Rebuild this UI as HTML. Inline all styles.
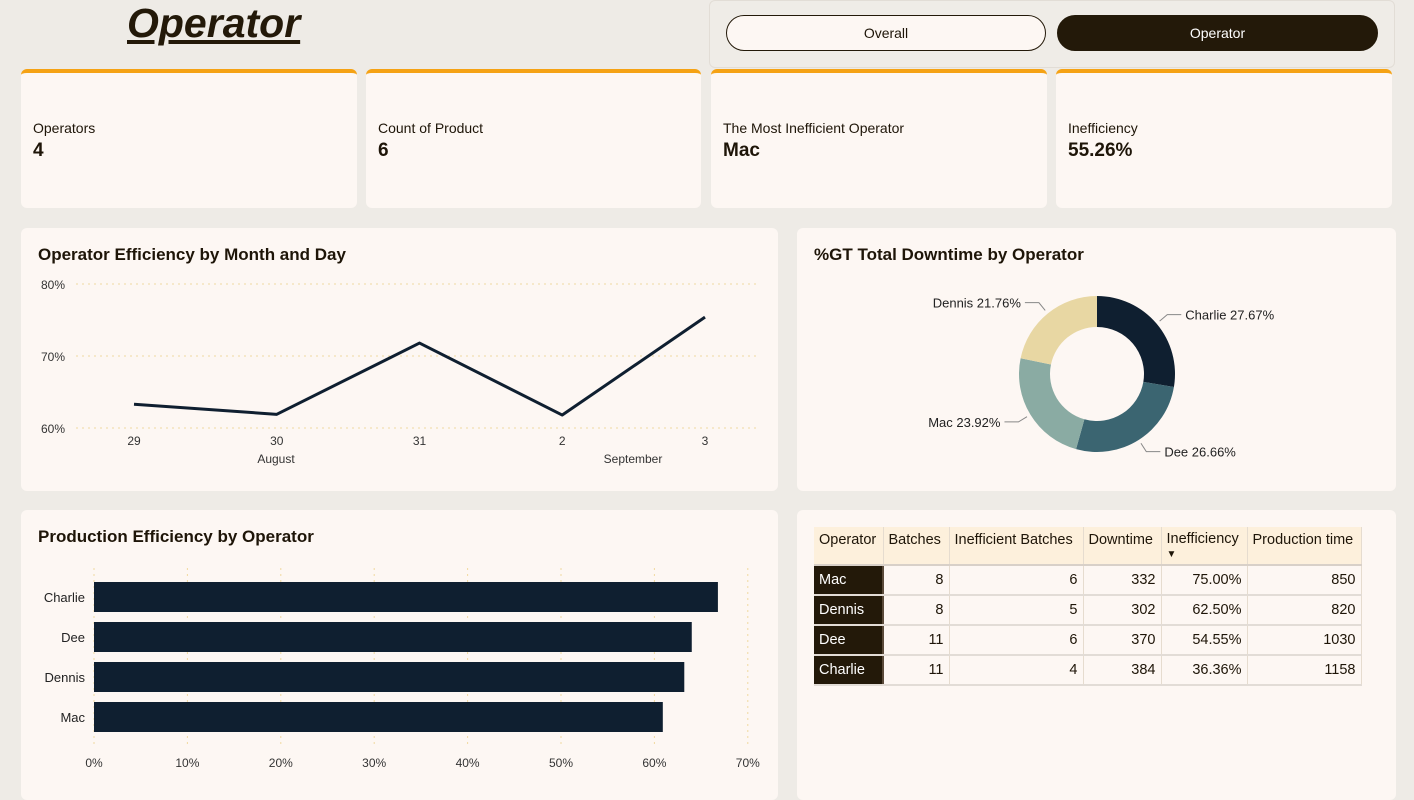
<!DOCTYPE html>
<html><head><meta charset="utf-8">
<style>
*{box-sizing:border-box;margin:0;padding:0}
body{width:1414px;height:791px;background:#eeebe6;font-family:"Liberation Sans",sans-serif;position:relative;overflow:hidden;color:#1e1508}
.card{position:absolute;background:#fdf7f3;border-radius:6px}
.kpi{border-top:4px solid #f5a214}
.kpi .l{position:absolute;left:12px;top:47px;font-size:14px}
.kpi .v{position:absolute;left:12px;top:67px;font-size:19px;font-weight:bold}
.title{position:absolute;left:17px;top:17px;font-size:17px;font-weight:bold}
.btn{position:absolute;height:36px;border-radius:18px;font-size:14px;text-align:center;line-height:34px}
table{position:absolute;left:814px;top:527px;border-collapse:collapse;font-size:14.5px}
th{background:#fdf0dc;font-weight:normal;text-align:left;padding:0 5px;height:38px;vertical-align:top;padding-top:5px;border-right:1px solid #e6dccf;border-bottom:2px solid #d8d0c8}
td{height:30px;padding:0 5px;text-align:right;border-right:1px solid #e6dccf;border-bottom:2px solid #e2dcd6}
td.op{background:#231909;color:#fff;text-align:left;border-right:2px solid #5a4a3a}
svg text{font-family:"Liberation Sans",sans-serif}
</style></head><body>
<div style="position:absolute;left:127px;top:0px;font-size:41px;font-weight:bold;font-style:italic;text-decoration:underline;color:#231909">Operator</div>
<div style="position:absolute;left:709px;top:0;width:686px;height:68px;border:1px solid #e2ddd6;border-radius:6px;background:#efece7"></div>
<div class="btn" style="left:726px;top:15px;width:320px;background:#fdf7f3;border:1px solid #231909">Overall</div>
<div class="btn" style="left:1057px;top:15px;width:321px;background:#231909;color:#fff;border:1px solid #231909">Operator</div>

<div class="card kpi" style="left:21px;top:69px;width:336px;height:139px"><div class="l">Operators</div><div class="v">4</div></div>
<div class="card kpi" style="left:366px;top:69px;width:335px;height:139px"><div class="l">Count of Product</div><div class="v">6</div></div>
<div class="card kpi" style="left:711px;top:69px;width:336px;height:139px"><div class="l">The Most Inefficient Operator</div><div class="v">Mac</div></div>
<div class="card kpi" style="left:1056px;top:69px;width:336px;height:139px"><div class="l">Inefficiency</div><div class="v">55.26%</div></div>

<div class="card" style="left:21px;top:228px;width:757px;height:263px"><div class="title">Operator Efficiency by Month and Day</div></div>
<div class="card" style="left:797px;top:228px;width:599px;height:263px"><div class="title">%GT Total Downtime by Operator</div></div>
<div class="card" style="left:21px;top:510px;width:757px;height:290px"><div class="title">Production Efficiency by Operator</div></div>
<div class="card" style="left:797px;top:510px;width:599px;height:290px"></div>

<svg id="charts" width="1414" height="791" style="position:absolute;left:0;top:0"></svg>

<table>
<tr><th>Operator</th><th>Batches</th><th>Inefficient Batches</th><th>Downtime</th><th style="line-height:14px">Inefficiency<br><span style="font-size:10px">▼</span></th><th>Production time</th></tr>
<tr><td class="op" style="width:69px">Mac</td><td style="width:66px">8</td><td style="width:134px">6</td><td style="width:78px">332</td><td style="width:86px">75.00%</td><td style="width:114px">850</td></tr>
<tr><td class="op">Dennis</td><td>8</td><td>5</td><td>302</td><td>62.50%</td><td>820</td></tr>
<tr><td class="op">Dee</td><td>11</td><td>6</td><td>370</td><td>54.55%</td><td>1030</td></tr>
<tr><td class="op">Charlie</td><td>11</td><td>4</td><td>384</td><td>36.36%</td><td>1158</td></tr>
</table>

<script>
const lineDays=["29","30","31","2","3"];
const lineMonths=[["August",276],["September",633]];
const lineValues=[63.3,61.9,71.8,61.8,75.4];
const lineTicks=[60,70,80];
const barCats=["Charlie","Dee","Dennis","Mac"];
const barValues=[66.8,64.0,63.2,60.9];
const barTicks=[0,10,20,30,40,50,60,70];
const donutCats=["Charlie","Dee","Mac","Dennis"];
const donutValues=[27.67,26.66,23.92,21.76];
const donutColors=["#0f1f30","#3b6571","#8aaba3","#e8d7a3"];

const NS="http://www.w3.org/2000/svg";
const svg=document.getElementById('charts');
function mk(tag,attrs,txt){const e=document.createElementNS(NS,tag);for(const k in attrs)e.setAttribute(k,attrs[k]);if(txt!=null)e.textContent=txt;svg.appendChild(e);return e;}

const ly=v=>428-(v-60)*7.2;
const lx=i=>134+i*142.75;
lineTicks.forEach(t=>{
  const g=mk('line',{x1:76,x2:758,y1:ly(t),y2:ly(t),stroke:'#f0d9a0','stroke-dasharray':'2,4'});
  
  
  const l=mk('text',{x:65,y:ly(t)+5,'text-anchor':'end','font-size':12,fill:'#333'},t+'%');
  
  
});
lineDays.forEach((d,i)=>{
  const t=mk('text',{x:lx(i),y:445,'text-anchor':'middle','font-size':12,fill:'#333'},d);
  
  
});
lineMonths.forEach(m=>{
  const t=mk('text',{x:m[1],y:463,'text-anchor':'middle','font-size':12,fill:'#333'},m[0]);
  
  
});
const pl=mk('polyline',{points:lineValues.map((v,i)=>lx(i)+','+ly(v)).join(' '),fill:'none',stroke:'#0f1f30','stroke-width':3,'stroke-linejoin':'round'});



const bx=v=>94+v*9.34;
barTicks.forEach(t=>{
  const g=mk('line',{x1:bx(t),x2:bx(t),y1:568,y2:745,stroke:'#f0d9a0','stroke-dasharray':'2,4'});
  
  
  const l=mk('text',{x:bx(t),y:767,'text-anchor':'middle','font-size':12,fill:'#333'},t+'%');
  
  
});
barCats.forEach((c,i)=>{
  const y=582+i*40;
  const r=mk('rect',{x:94,y:y,width:bx(barValues[i])-94,height:30,fill:'#0f1f30'});
  
  
  const t=mk('text',{x:85,y:y+20,'text-anchor':'end','font-size':13,fill:'#222'},c);
  
  
});

const cx=1097,cy=374,R=78,r0=47;
const total=donutValues.reduce((a,b)=>a+b,0);
let a0=0;
donutValues.forEach((v,i)=>{
  const a1=a0+v/total*2*Math.PI;
  const p=(a,rr)=>[cx+rr*Math.sin(a),cy-rr*Math.cos(a)];
  const [x1,y1]=p(a0,R),[x2,y2]=p(a1,R),[x3,y3]=p(a1,r0),[x4,y4]=p(a0,r0);
  const lg=(a1-a0)>Math.PI?1:0;
  const s=mk('path',{d:`M${x1},${y1}A${R},${R} 0 ${lg} 1 ${x2},${y2}L${x3},${y3}A${r0},${r0} 0 ${lg} 0 ${x4},${y4}Z`,fill:donutColors[i]});
  
  
  const am=(a0+a1)/2;
  const [ex,ey]=p(am,R+4),[fx,fy]=p(am,R+14);
  const right=Math.sin(am)>0;
  const hx=fx+(right?14:-14);
  const ln=mk('polyline',{points:`${ex},${ey} ${fx},${fy} ${hx},${fy}`,fill:'none',stroke:'#888','stroke-width':1});
  
  
  const t=mk('text',{x:hx+(right?4:-4),y:fy+5,'text-anchor':right?'start':'end','font-size':13,fill:'#222'},donutCats[i]+' '+v.toFixed(2)+'%');
  
  
  a0=a1;
});
</script>
</body></html>
